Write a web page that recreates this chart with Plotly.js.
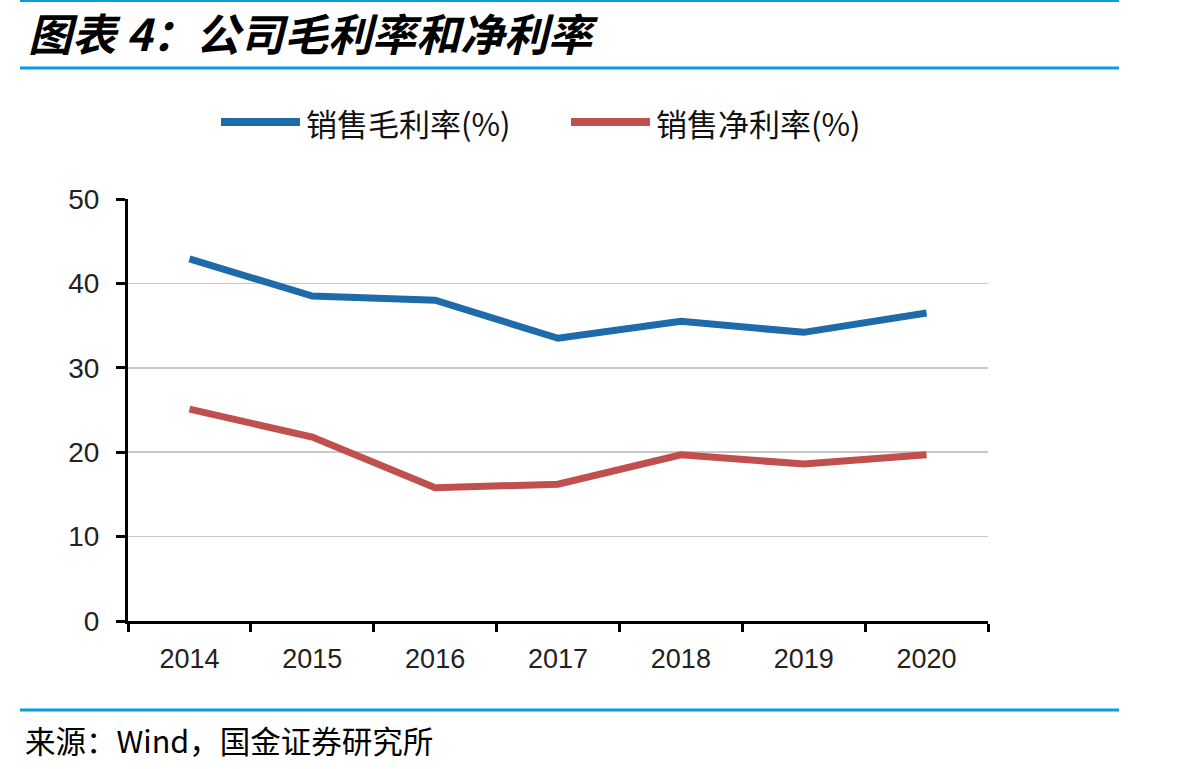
<!DOCTYPE html>
<html>
<head>
<meta charset="utf-8">
<script src="https://cdn.plot.ly/plotly-3.0.1.min.js"></script>
<style>
  html, body { margin: 0; padding: 0; background: #ffffff; }
  #chart { width: 1201px; height: 769px; }
</style>
</head>
<body>
<div id="chart"></div>
<script>
// Annual margins, 2014-2020
const years = ['2014', '2015', '2016', '2017', '2018', '2019', '2020'];
const grossMargin = [42.9, 38.5, 38.0, 33.5, 35.5, 34.2, 36.5];
const netMargin = [25.1, 21.8, 15.8, 16.2, 19.7, 18.6, 19.7];
const seriesNames = ['销售毛利率(%)', '销售净利率(%)'];
const yTicks = [0, 10, 20, 30, 40, 50];

const W = 1201, H = 769;
const M = { l: 128, r: 213, t: 199, b: 148 };
const plotW = W - M.l - M.r, plotH = H - M.t - M.b;
// pixel -> paper coordinate helpers for decorations outside the plot area
const px = x => (x - M.l) / plotW;
const py = y => (H - M.b - y) / plotH;

const BLUE = '#1f6aa8';
const RED = '#c0504d';
const RULE = '#0a9be0';
const CJK = '"Noto Sans CJK SC", "Noto Sans", sans-serif';
const NUM = '"Liberation Sans", Arial, sans-serif';

const traces = [
  { x: years, y: grossMargin, name: seriesNames[0], type: 'scatter', mode: 'lines',
    line: { color: BLUE, width: 7 } },
  { x: years, y: netMargin, name: seriesNames[1], type: 'scatter', mode: 'lines',
    line: { color: RED, width: 7 } }
];

const shapes = [
  // rules framing title and footer
  { type: 'line', xref: 'paper', yref: 'paper', x0: px(20), x1: px(1119), y0: py(1), y1: py(1),
    line: { color: RULE, width: 2 } },
  { type: 'line', xref: 'paper', yref: 'paper', x0: px(20), x1: px(1119), y0: py(68), y1: py(68),
    line: { color: RULE, width: 3 } },
  { type: 'line', xref: 'paper', yref: 'paper', x0: px(20), x1: px(1119), y0: py(710), y1: py(710),
    line: { color: RULE, width: 3 } },
  // legend swatches
  { type: 'line', xref: 'paper', yref: 'paper', x0: px(221), x1: px(300), y0: py(122), y1: py(122),
    line: { color: BLUE, width: 8 } },
  { type: 'line', xref: 'paper', yref: 'paper', x0: px(571), x1: px(650), y0: py(122), y1: py(122),
    line: { color: RED, width: 8 } }
];

const annotations = [
  { text: '<b><i>图表 4：公司毛利率和净利率</i></b>', xref: 'paper', yref: 'paper',
    x: px(26), y: py(32), xanchor: 'left', yanchor: 'middle', showarrow: false,
    font: { family: CJK, size: 44, color: '#000000' } },
  { text: seriesNames[0], xref: 'paper', yref: 'paper',
    x: px(304), y: py(122), xanchor: 'left', yanchor: 'middle', showarrow: false,
    font: { family: CJK, size: 31, color: '#111111' } },
  { text: seriesNames[1], xref: 'paper', yref: 'paper',
    x: px(654), y: py(122), xanchor: 'left', yanchor: 'middle', showarrow: false,
    font: { family: CJK, size: 31, color: '#111111' } },
  { text: '来源：Wind，国金证券研究所', xref: 'paper', yref: 'paper',
    x: px(23), y: py(740), xanchor: 'left', yanchor: 'middle', showarrow: false,
    font: { family: CJK, size: 30.5, color: '#000000' } }
];

const layout = {
  width: W, height: H,
  margin: M,
  paper_bgcolor: '#ffffff', plot_bgcolor: '#ffffff',
  showlegend: false,
  xaxis: {
    type: 'category', range: [-0.5, years.length - 0.5],
    tickson: 'boundaries', ticks: 'outside', ticklen: 8, tickwidth: 3,
    tickcolor: '#000000', showline: true, linecolor: '#000000', linewidth: 3,
    showgrid: false, zeroline: false, fixedrange: true,
    tickfont: { family: NUM, size: 27, color: '#222222' }, ticklabelstandoff: 12
  },
  yaxis: {
    range: [0, 50], tickvals: yTicks, ticks: 'outside', ticklen: 9, tickwidth: 3,
    tickcolor: '#000000', showline: true, linecolor: '#000000', linewidth: 3,
    showgrid: true, gridcolor: '#c8c8c8', gridwidth: 1.5, zeroline: false, fixedrange: true,
    tickfont: { family: NUM, size: 28, color: '#222222' }, ticklabelstandoff: 11
  },
  shapes: shapes,
  annotations: annotations
};

Plotly.newPlot('chart', traces, layout, { displayModeBar: false, staticPlot: true });
</script>
</body>
</html>
